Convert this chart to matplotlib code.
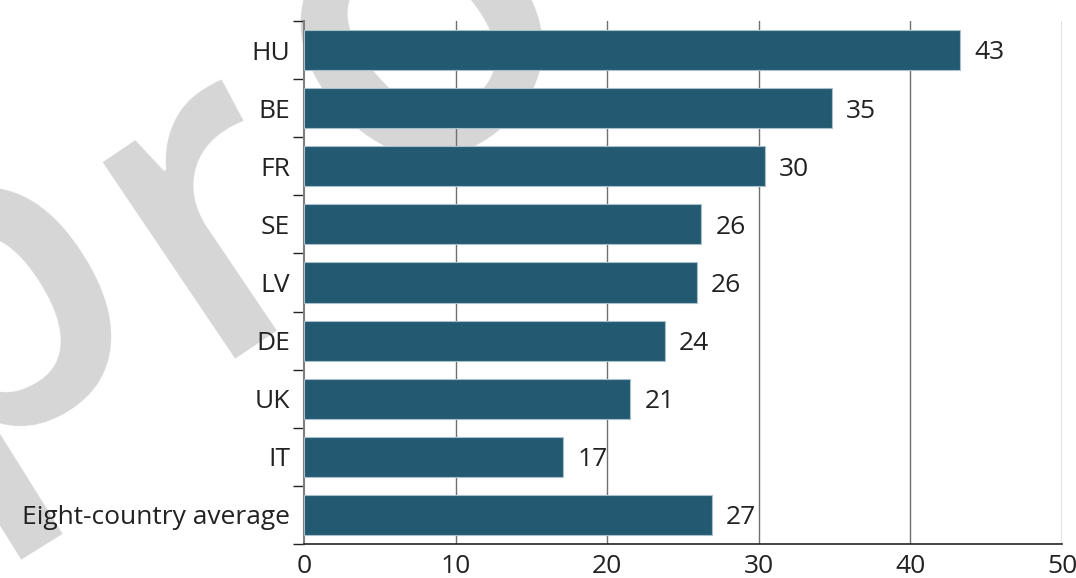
import matplotlib
matplotlib.use("Agg")
import matplotlib.pyplot as plt

# data
countries = ["HU", "BE", "FR", "SE", "LV", "DE", "UK", "IT", "Eight-country average"]
values = [43.3, 34.8, 30.4, 26.2, 25.9, 23.8, 21.5, 17.1, 26.9]
labels = ["43", "35", "30", "26", "26", "24", "21", "17", "27"]
xticks = [0, 10, 20, 30, 40, 50]

bar_color = "#245a71"
plt.rcParams['font.family'] = ['Open Sans', 'DejaVu Sans']

fig = plt.figure(figsize=(10.76, 5.78), dpi=100)

# grey watermark letters behind the chart (curved, so one letter at a time)
W, H = 1076.0, 578.0
wm_letters = ["p", "r", "o"]
wm_pos = [(-15, 302), (214, 212), (420, 25)]   # pixel centres, from top-left
wm_rot = [32, 34, 40]
for ch, (px, py), rot in zip(wm_letters, wm_pos, wm_rot):
    fig.text(px / W, 1 - py / H, ch, fontsize=315, color="#d6d6d6",
             rotation=rot, rotation_mode="anchor", ha="center", va="center",
             fontweight="semibold", zorder=-5)

ax = fig.add_axes([0.2825, 0.0588, 0.7045, 0.9048])
ax.set_facecolor("none")

ypos = list(range(len(countries)))
ax.barh(ypos, values, height=0.69, color=bar_color, edgecolor="#a9c0cc",
        linewidth=0.8, zorder=3)

for y, v, lab in zip(ypos, values, labels):
    ax.text(v + 0.95, y + 0.05, lab, va="center", ha="left", fontsize=19,
            color="#222222", zorder=4)

ax.set_xlim(0, 50)
ax.set_ylim(len(countries) - 0.5, -0.5)

# vertical grid lines
for x in xticks[1:]:
    ax.axvline(x, color="#707070", linewidth=1.0, zorder=1)

ax.set_xticks(xticks)
ax.set_xticklabels([str(t) for t in xticks], fontsize=19, color="#222222")
ax.tick_params(axis="x", length=0, pad=7)

# category names centred, tick marks on the boundaries
ax.set_yticks(ypos)
ax.set_yticklabels(countries, fontsize=19, color="#222222")
ax.tick_params(axis="y", which="major", length=0, pad=10)
ax.set_yticks([y - 0.5 for y in range(len(countries) + 1)], minor=True)
ax.tick_params(axis="y", which="minor", length=8, width=1, color="#222222")

ax.spines["top"].set_visible(False)
ax.spines["right"].set_visible(False)
ax.spines["left"].set_color("#808080")
ax.spines["left"].set_linewidth(1.5)
ax.spines["bottom"].set_color("#222222")
ax.spines["bottom"].set_linewidth(1.2)

plt.savefig("out.png", dpi=100)
